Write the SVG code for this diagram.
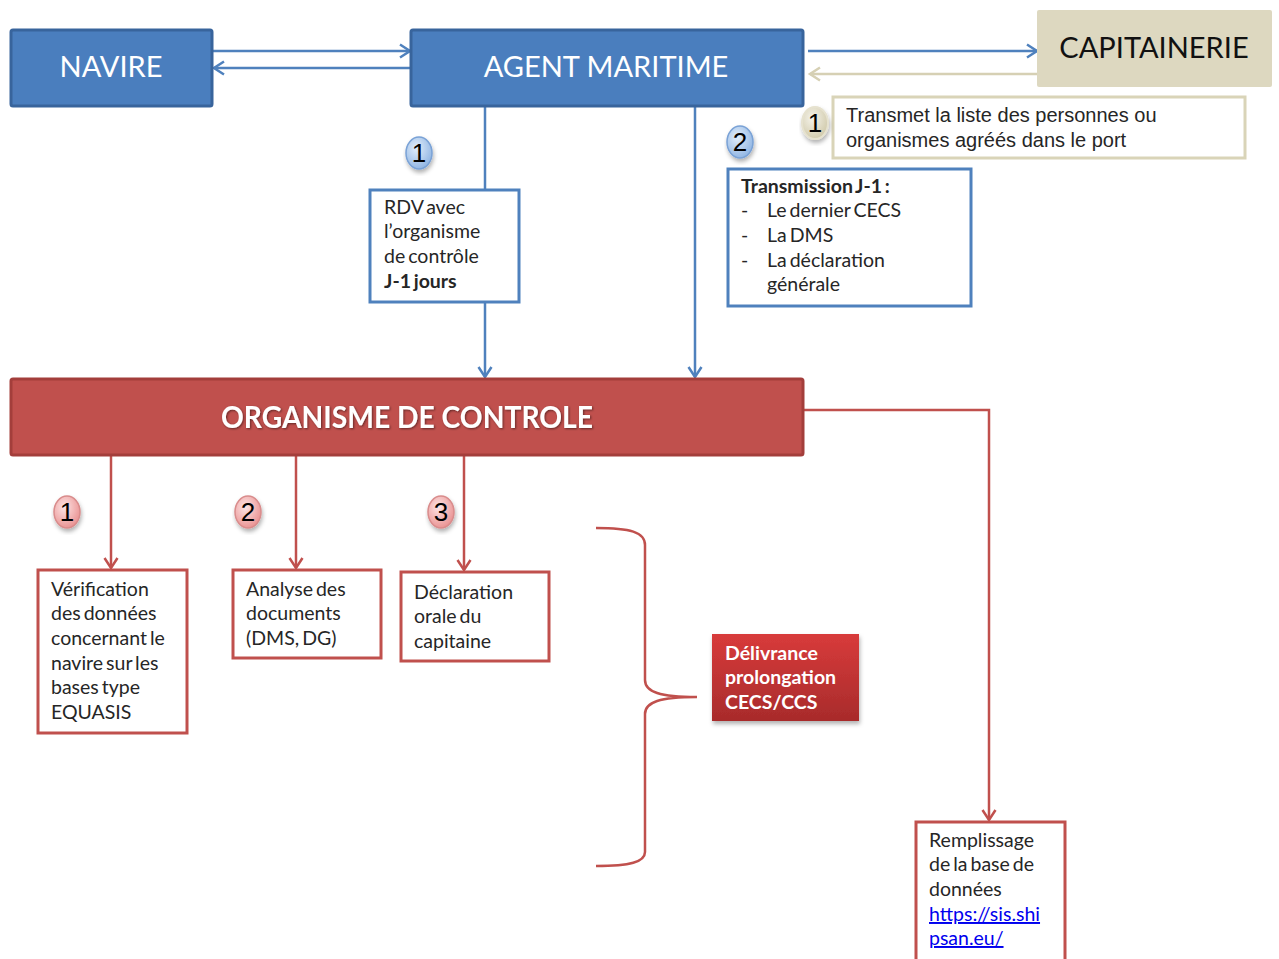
<svg xmlns="http://www.w3.org/2000/svg" width="1279" height="959" viewBox="0 0 1279 959">
<style>
.t{font-family:Lato,"Open Sans","Liberation Sans",sans-serif;font-size:19.5px;word-spacing:-2px;fill:#262626}
.b{font-weight:bold}
.hdr{font-family:Lato,"Open Sans","Liberation Sans",sans-serif;font-size:29px;fill:#fff;text-anchor:middle}
.bluebox{fill:#4a7ebe;stroke:#38649c;stroke-width:3}
.wbox{fill:#fff;stroke:#4f81bd;stroke-width:3}
.rbox{fill:#fff;stroke:#c0504d;stroke-width:3}
.bl{stroke:#4f81bd;stroke-width:2.5;fill:none}
.rl{stroke:#c0504d;stroke-width:2.5;fill:none}
.num{font-family:"Liberation Sans",Arial,sans-serif;font-size:26px;fill:#000;text-anchor:middle}
</style>
<defs>
<marker id="ab" markerWidth="16" markerHeight="16" refX="13" refY="8" orient="auto" markerUnits="userSpaceOnUse"><path d="M3,1.5 L13,8 L3,14.5" fill="none" stroke="#4f81bd" stroke-width="2.5"/></marker>
<marker id="ar" markerWidth="16" markerHeight="16" refX="13" refY="8" orient="auto" markerUnits="userSpaceOnUse"><path d="M3,1.5 L13,8 L3,14.5" fill="none" stroke="#c0504d" stroke-width="2.5"/></marker>
<marker id="at" markerWidth="16" markerHeight="16" refX="13" refY="8" orient="auto" markerUnits="userSpaceOnUse"><path d="M3,1.5 L13,8 L3,14.5" fill="none" stroke="#d6d0b4" stroke-width="2.5"/></marker>
<radialGradient id="gb" cx="0.4" cy="0.35" r="0.7"><stop offset="0" stop-color="#e2eefb"/><stop offset="1" stop-color="#8db3e2"/></radialGradient>
<radialGradient id="gr" cx="0.4" cy="0.35" r="0.7"><stop offset="0" stop-color="#fde4e4"/><stop offset="1" stop-color="#e98f8f"/></radialGradient>
<radialGradient id="gt" cx="0.4" cy="0.35" r="0.7"><stop offset="0" stop-color="#f5f3ea"/><stop offset="1" stop-color="#cfc8a8"/></radialGradient>
<linearGradient id="gd" x1="0" y1="0" x2="0" y2="1"><stop offset="0" stop-color="#d83b3b"/><stop offset="1" stop-color="#a82b2b"/></linearGradient>
<filter id="sh" x="-10%" y="-10%" width="130%" height="130%"><feDropShadow dx="1" dy="3" stdDeviation="2" flood-color="#000" flood-opacity="0.3"/></filter>
<filter id="ts" x="-5%" y="-20%" width="110%" height="150%"><feDropShadow dx="1" dy="1" stdDeviation="1" flood-color="#000" flood-opacity="0.5"/></filter>
</defs>

<g id="connectors">
<line class="bl" x1="213" y1="51" x2="410" y2="51" marker-end="url(#ab)"/>
<line class="bl" x1="410" y1="68" x2="214" y2="68" marker-end="url(#ab)"/>
<line class="bl" x1="808" y1="51" x2="1037" y2="51" marker-end="url(#ab)"/>
<line x1="1037" y1="74" x2="810" y2="74" stroke="#d6d0b4" stroke-width="2.5" marker-end="url(#at)"/>
<line class="bl" x1="485" y1="106" x2="485" y2="190"/>
<line class="bl" x1="485" y1="302" x2="485" y2="377" marker-end="url(#ab)"/>
<line class="bl" x1="695" y1="106" x2="695" y2="377" marker-end="url(#ab)"/>
<line class="rl" x1="111" y1="455" x2="111" y2="568" marker-end="url(#ar)"/>
<line class="rl" x1="296" y1="455" x2="296" y2="568" marker-end="url(#ar)"/>
<line class="rl" x1="464" y1="455" x2="464" y2="570" marker-end="url(#ar)"/>
<polyline class="rl" points="804,410 989,410 989,820" marker-end="url(#ar)"/>
<path class="rl" d="M596,528 C630,528 645,532 645,545 L645,680 C645,692 660,697 697,697 C660,697 645,702 645,714 L645,852 C645,862 630,866 596,866"/>
</g>

<g id="navire">
<rect class="bluebox" x="11" y="30" width="201" height="76" rx="2"/>
<text class="hdr" x="111" y="77">NAVIRE</text>
</g>
<g id="agent">
<rect class="bluebox" x="411" y="30" width="392" height="76" rx="2"/>
<text class="hdr" x="606" y="77">AGENT MARITIME</text>
</g>
<g id="capitainerie">
<rect x="1037" y="10" width="235" height="77" fill="#ddd8c0" rx="2"/>
<text class="hdr" x="1154" y="58" style="fill:#111">CAPITAINERIE</text>
</g>
<g id="note-capitainerie">
<rect x="833" y="97" width="412" height="61" fill="#fff" stroke="#d9d4b8" stroke-width="3"/>
<text font-family="'Liberation Sans',Arial,sans-serif" font-size="20" fill="#262626"><tspan x="846" y="122">Transmet la liste des personnes ou</tspan><tspan x="846" y="147">organismes agréés dans le port</tspan></text>
</g>
<g id="badge-t1">
<ellipse cx="815" cy="123" rx="13" ry="16" fill="url(#gt)" stroke="#e6e2cf" stroke-width="2" filter="url(#sh)"/>
<text class="num" x="815" y="132">1</text>
</g>

<g id="badge-b1">
<ellipse cx="419" cy="153" rx="13" ry="16" fill="url(#gb)" stroke="#7aa2d6" stroke-width="1.5" filter="url(#sh)"/>
<text class="num" x="419" y="162">1</text>
</g>
<g id="rdv">
<rect class="wbox" x="370" y="190" width="149" height="112"/>
<text class="t"><tspan x="384" y="214">RDV avec</tspan><tspan x="384" y="238">l’organisme</tspan><tspan x="384" y="263">de contrôle</tspan><tspan x="384" y="288" class="b">J-1 jours</tspan></text>
</g>
<g id="badge-b2">
<ellipse cx="740" cy="142" rx="13" ry="16" fill="url(#gb)" stroke="#7aa2d6" stroke-width="1.5" filter="url(#sh)"/>
<text class="num" x="740" y="151">2</text>
</g>
<g id="transmission">
<rect class="wbox" x="728" y="169" width="243" height="137"/>
<text class="t"><tspan x="741" y="193" class="b">Transmission J-1 :</tspan><tspan x="741" y="217">-</tspan><tspan x="767" y="217">Le dernier CECS</tspan><tspan x="741" y="242">-</tspan><tspan x="767" y="242">La DMS</tspan><tspan x="741" y="267">-</tspan><tspan x="767" y="267">La déclaration</tspan><tspan x="767" y="291">générale</tspan></text>
</g>

<g id="organisme">
<rect x="11" y="379" width="792" height="76" fill="#c0504d" stroke="#a33e3b" stroke-width="3" rx="2"/>
<text x="407" y="428" font-family="Lato,'Open Sans',sans-serif" font-size="30" font-weight="bold" fill="#fff" text-anchor="middle" textLength="372" lengthAdjust="spacingAndGlyphs" filter="url(#ts)">ORGANISME DE CONTROLE</text>
</g>

<g id="badge-r1">
<ellipse cx="67" cy="512" rx="13" ry="16" fill="url(#gr)" stroke="#d98c8c" stroke-width="1.5" filter="url(#sh)"/>
<text class="num" x="67" y="521">1</text>
</g>
<g id="badge-r2">
<ellipse cx="248" cy="512" rx="13" ry="16" fill="url(#gr)" stroke="#d98c8c" stroke-width="1.5" filter="url(#sh)"/>
<text class="num" x="248" y="521">2</text>
</g>
<g id="badge-r3">
<ellipse cx="441" cy="512" rx="13" ry="16" fill="url(#gr)" stroke="#d98c8c" stroke-width="1.5" filter="url(#sh)"/>
<text class="num" x="441" y="521">3</text>
</g>

<g id="verification">
<rect class="rbox" x="38" y="570" width="149" height="163"/>
<text class="t"><tspan x="51" y="596">Vérification</tspan><tspan x="51" y="620">des données</tspan><tspan x="51" y="645">concernant le</tspan><tspan x="51" y="670">navire sur les</tspan><tspan x="51" y="694">bases type</tspan><tspan x="51" y="719">EQUASIS</tspan></text>
</g>
<g id="analyse">
<rect class="rbox" x="233" y="570" width="148" height="88"/>
<text class="t"><tspan x="246" y="596">Analyse des</tspan><tspan x="246" y="620">documents</tspan><tspan x="246" y="645">(DMS, DG)</tspan></text>
</g>
<g id="declaration">
<rect class="rbox" x="401" y="572" width="148" height="89"/>
<text class="t"><tspan x="414" y="599">Déclaration</tspan><tspan x="414" y="623">orale du</tspan><tspan x="414" y="648">capitaine</tspan></text>
</g>

<g id="delivrance">
<rect x="712" y="634" width="147" height="87" fill="url(#gd)" filter="url(#sh)"/>
<text class="t b" style="fill:#fff"><tspan x="725" y="660">Délivrance</tspan><tspan x="725" y="684">prolongation</tspan><tspan x="725" y="709">CECS/CCS</tspan></text>
</g>

<g id="remplissage">
<rect class="rbox" x="916" y="822" width="149" height="140"/>
<text class="t"><tspan x="929" y="847">Remplissage</tspan><tspan x="929" y="871">de la base de</tspan><tspan x="929" y="896">données</tspan><tspan x="929" y="921" fill="#0000ee" text-decoration="underline">https://sis.shi</tspan><tspan x="929" y="945" fill="#0000ee" text-decoration="underline">psan.eu/</tspan></text>
</g>
</svg>
